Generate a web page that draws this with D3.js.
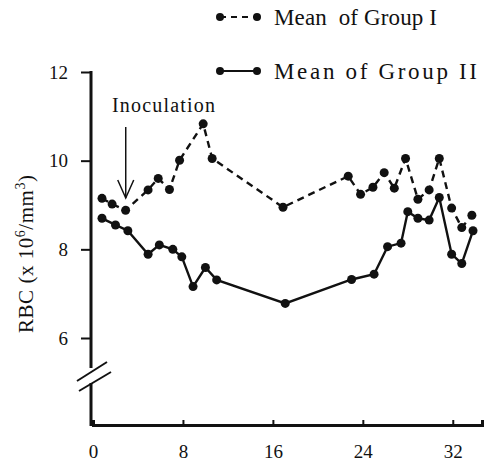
<!DOCTYPE html>
<html>
<head>
<meta charset="utf-8">
<script src="https://d3js.org/d3.v7.min.js"></script>
<style>
	body { margin: 0; background: #fff; }
	svg text { font-family: "Liberation Serif", "Times New Roman", serif; fill: #111; }
</style>
</head>
<body>
<div id="main"></div>
<script>
// days after start / RBC means
const daysI = [0.8, 1.7, 2.9, 4.9, 5.8, 6.8, 7.7, 9.8, 10.6, 16.9, 22.7, 23.8, 24.9, 25.9, 26.8, 27.8, 28.9, 29.9, 30.8, 31.9, 32.8, 33.7]
const rbcI = [9.15, 9.02, 8.88, 9.34, 9.60, 9.35, 10.01, 10.83, 10.05, 8.95, 9.65, 9.24, 9.40, 9.73, 9.38, 10.05, 9.13, 9.34, 10.05, 8.93, 8.49, 8.77]

const daysII = [0.8, 2.0, 3.1, 4.9, 5.9, 7.1, 7.9, 8.9, 10.0, 11.0, 17.1, 23.0, 25.0, 26.2, 27.4, 28.0, 28.9, 29.9, 30.8, 31.9, 32.8, 33.8]
const rbcII = [8.70, 8.55, 8.42, 7.89, 8.10, 8.00, 7.83, 7.16, 7.59, 7.31, 6.78, 7.32, 7.44, 8.06, 8.14, 8.85, 8.70, 8.66, 9.17, 7.89, 7.68, 8.42]

const xTicks = [0, 8, 16, 24, 32]
const yTicks = [6, 8, 10, 12]
const inoculationDay = 3
const legendLabels = ["Mean  of Group I", "Mean of Group II"]

const width = 487
const height = 470
const axisY = 425
const axisX = 91
const serif = "'Liberation Serif', 'Times New Roman', serif"

let x = d3.scaleLinear()
	.domain([0, 34.6])
	.range([93, 482])

let y = d3.scaleLinear()
	.domain([6, 12])
	.range([338, 72])

let svg = d3.select("#main")
	.append("svg")
		.attr("width", width)
		.attr("height", height)

// x axis, ticks pointing up
let xAxis = svg.append("g")
	.attr("transform", `translate(0,${axisY})`)
	.call(d3.axisBottom(x).tickValues(xTicks).tickFormat(d3.format("d")).tickSizeInner(-5).tickSizeOuter(-5).tickPadding(20))
	.attr("font-family", serif)
	.attr("font-size", 19)
xAxis.select(".domain").attr("stroke-width", 3).attr("stroke", "#111")
xAxis.selectAll(".tick line").attr("stroke-width", 2).attr("stroke", "#111")

// y axis, ticks pointing left, with a break near the bottom
let yAxis = svg.append("g")
	.attr("transform", `translate(${axisX},0)`)
	.call(d3.axisLeft(y).tickValues(yTicks).tickFormat(d3.format("d")).tickSize(10).tickSizeOuter(0).tickPadding(13))
	.attr("font-family", serif)
	.attr("font-size", 19)
yAxis.select(".domain").remove()
yAxis.selectAll(".tick line").attr("stroke-width", 2).attr("stroke", "#111")

yAxis.append("line")
	.attr("x1", 0).attr("x2", 0)
	.attr("y1", y(12) - 1).attr("y2", 368)
	.attr("stroke", "#111").attr("stroke-width", 3)
yAxis.append("line")
	.attr("x1", 0).attr("x2", 0)
	.attr("y1", 383).attr("y2", axisY + 1)
	.attr("stroke", "#111").attr("stroke-width", 3)
yAxis.selectAll(".brk")
	.data([0, 10])
	.enter()
	.append("line")
		.attr("x1", d => -14 + d * 0.2).attr("y1", d => 381 + d)
		.attr("x2", d => 16 + d * 0.4).attr("y2", d => 362 + d)
		.attr("stroke", "#111").attr("stroke-width", 2)

// y label
svg.append("text")
	.attr("transform", `translate(33,254) rotate(-90)`)
	.attr("text-anchor", "middle")
	.attr("textLength", 158)
	.attr("lengthAdjust", "spacing")
	.style("font-size", "21px")
	.html("RBC (x 10<tspan dy='-8' font-size='14px'>6</tspan><tspan dy='8'>/mm</tspan><tspan dy='-8' font-size='14px'>3</tspan><tspan dy='8'>)</tspan>")

// series
const seriesI = daysI.map((d, i) => ({day: d, v: rbcI[i]}))
const seriesII = daysII.map((d, i) => ({day: d, v: rbcII[i]}))

const line = d3.line()
	.x(d => x(d.day))
	.y(d => y(d.v))

const drawSeries = (data, dash) => {
	svg.append("path")
		.datum(data)
		.attr("d", line)
		.attr("fill", "none")
		.attr("stroke", "#111")
		.attr("stroke-width", 2.4)
		.attr("stroke-dasharray", dash)
	svg.append("g")
		.selectAll("circle")
		.data(data)
		.enter()
		.append("circle")
			.attr("cx", d => x(d.day))
			.attr("cy", d => y(d.v))
			.attr("r", 4.5)
			.attr("fill", "#111")
}

drawSeries(seriesI, "7,5")
drawSeries(seriesII, null)

// inoculation arrow
let ax = x(inoculationDay) - 1
svg.append("text")
	.attr("x", 112)
	.attr("y", 112)
	.attr("textLength", 103)
	.attr("lengthAdjust", "spacing")
	.style("font-size", "20px")
	.text("Inoculation")
svg.append("line")
	.attr("x1", ax).attr("x2", ax)
	.attr("y1", 127).attr("y2", 198)
	.attr("stroke", "#111").attr("stroke-width", 1.5)
svg.append("path")
	.attr("d", `M${ax - 8},180 L${ax},198 L${ax + 8},180`)
	.attr("fill", "none")
	.attr("stroke", "#111").attr("stroke-width", 1.5)

// legend
let legend = svg.append("g")
	.selectAll("g")
	.data(legendLabels)
	.enter()
	.append("g")
		.attr("transform", (d, i) => `translate(0,${i == 0 ? 17 : 71})`)

legend.append("line")
	.attr("x1", 220).attr("x2", 257)
	.attr("stroke", "#111")
	.attr("stroke-width", 2)
	.attr("stroke-dasharray", (d, i) => i == 0 ? "6,5" : null)
legend.selectAll("circle")
	.data([220, 257])
	.enter()
	.append("circle")
		.attr("cx", d => d)
		.attr("r", 4)
		.attr("fill", "#111")
legend.append("text")
	.attr("x", 274)
	.attr("y", 8)
	.attr("textLength", (d, i) => i == 0 ? 163 : 203)
	.attr("lengthAdjust", "spacing")
	.style("font-size", "23px")
	.style("white-space", "pre")
	.text(d => d)
</script>
</body>
</html>
